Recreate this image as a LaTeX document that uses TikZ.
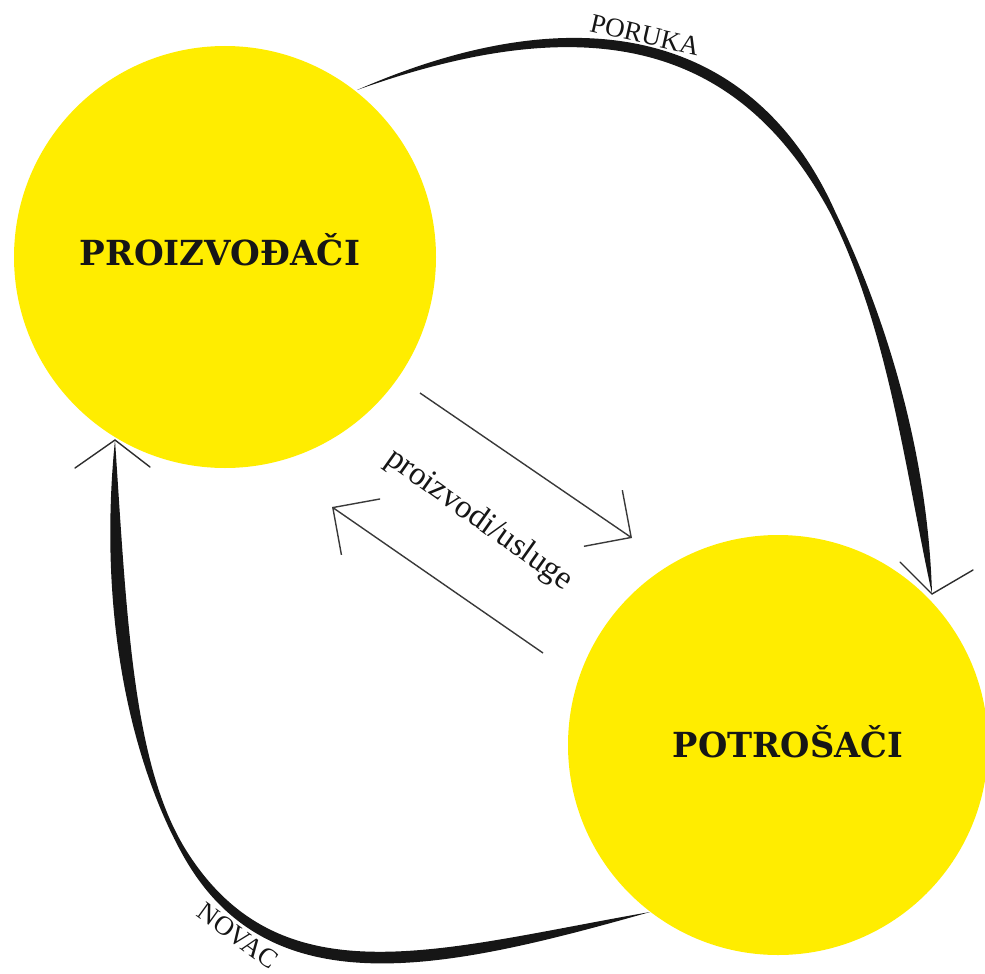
\documentclass[tikz,border=0pt]{standalone}
\usepackage{fontspec}
\setmainfont{Liberation Serif}
\newfontfamily\labfont{DejaVu Serif}
\usetikzlibrary{arrows.meta}
\definecolor{sun}{RGB}{255,237,0}
\definecolor{ink}{RGB}{22,22,22}
\begin{document}
\begin{tikzpicture}[x=1pt,y=-1pt,
  bubble/.style={circle, fill=sun, inner sep=0pt},
  bigword/.style={font=\labfont\bfseries, text=ink, inner sep=0pt},
  smallword/.style={font=\fontsize{27}{30}\selectfont, text=ink, inner sep=0pt},
  flow/.style={draw=ink!85, line width=1.4pt, -{Straight Barb[length=34pt,width=68pt]}},
  barb/.style={draw=ink!90, line width=1.4pt, line cap=round},
  band/.style={fill=ink}]
\useasboundingbox (0,0) rectangle (985,974);
% circles
\node[bubble, minimum size=422pt] (P) at (225,257) {};
\node[bubble, minimum size=420pt] (C) at (778,745) {};
\node[bigword, anchor=base] (Pl) at (220,265) {\resizebox{280pt}{32pt}{PROIZVOĐAČI}};
\node[bigword, anchor=base] (Cl) at (788,757) {\resizebox{230pt}{32pt}{POTROŠAČI}};
% end points of the tapered connectors
\coordinate (t0) at (357,90);
\coordinate (t1) at (932,594);
\coordinate (t2) at (115,440);
\coordinate (t3) at (650,912);
% top tapered connector (PORUKA)
\fill[band] (t0) .. controls (588.5,-11.2) and (757.6,38) .. (835.3,211.9)
  .. controls (891.8,329.2) and (928.3,463.9) .. (t1)
  .. controls (904.5,466.7) and (888.6,330.8) .. (830.8,214.1)
  .. controls (741.2,46) and (594.5,5.2) .. (t0) -- cycle;
\coordinate (h1a) at (900,562);
\coordinate (h1b) at (973,570);
\draw[barb] (h1a) -- (t1) -- (h1b);
% bottom tapered connector (NOVAC)
\fill[band] (t2) .. controls (127,620.5) and (133,763.4) .. (185.2,848.8)
  .. controls (279.9,1001.9) and (437.5,949.1) .. (t3)
  .. controls (442.5,970.9) and (266.1,1009.9) .. (180.8,851.3)
  .. controls (133,763.4) and (97,619.5) .. (t2) -- cycle;
\coordinate (h2a) at (75,468);
\coordinate (h2b) at (150,467);
\draw[barb] (h2a) -- (t2) -- (h2b);
% labels of the curved connectors
\node[smallword, rotate=-13] (por) at (645,35) {PORUKA};
\node[smallword, rotate=-36] (nov) at (238,936) {NOVAC};
% straight arrows
\coordinate (a1s) at (420,393);
\coordinate (a1e) at (632,538);
\coordinate (a2s) at (543,653);
\coordinate (a2e) at (332,507);
\draw[flow] (a1s) -- (a1e);
\draw[flow] (a2s) -- (a2e);
\node[font=\fontsize{33}{36}\selectfont, text=ink, rotate=-35.4, inner sep=0pt] (lab) at (479,520) {proizvodi/usluge};
\end{tikzpicture}
\end{document}
